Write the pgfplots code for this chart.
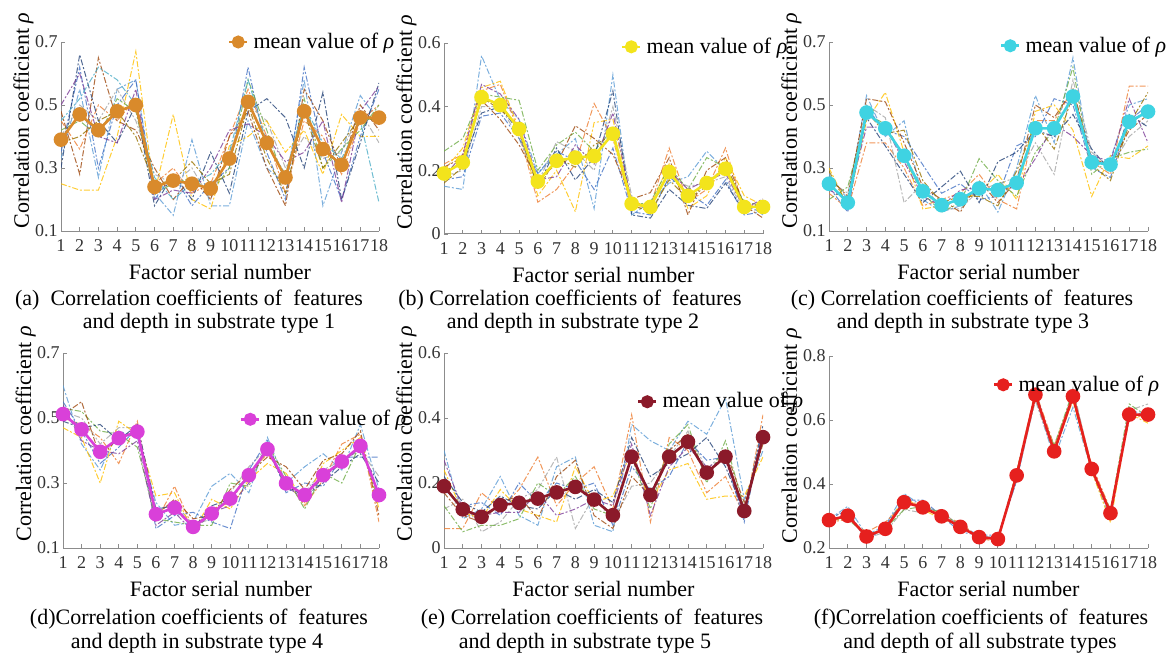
\documentclass[border=0pt]{standalone}
\usepackage{pgfplots}
\pgfplotsset{compat=1.18}
\usepackage{pgfplotstable}
\usepackage{fontspec}
\setmainfont{Liberation Serif}
\newfontfamily\tnr{Liberation Serif}

% line colours of the individual samples
\definecolor{c1}{HTML}{5B9BD5}
\definecolor{c2}{HTML}{ED7D31}
\definecolor{c3}{HTML}{A5A5A5}
\definecolor{c4}{HTML}{FFC000}
\definecolor{c5}{HTML}{4472C4}
\definecolor{c6}{HTML}{70AD47}
\definecolor{c7}{HTML}{264478}
\definecolor{c8}{HTML}{9E480E}
\definecolor{c9}{HTML}{7E3F98}
\definecolor{c10}{HTML}{997300}
\definecolor{c11}{HTML}{4BACC6}
% colours of the mean curves
\definecolor{meanA}{HTML}{D98A2B}
\definecolor{meanB}{HTML}{F3E41C}
\definecolor{meanC}{HTML}{3FD3E2}
\definecolor{meanD}{HTML}{D940D9}
\definecolor{meanE}{HTML}{8B1A2A}
\definecolor{meanF}{HTML}{E6201E}
\definecolor{axisgray}{HTML}{8C8C8C}

% one row per curve, one column per factor
\pgfplotstableread{
name 1 2 3 4 5 6 7 8 9 10 11 12 13 14 15 16 17 18
m   0.39 0.47 0.42 0.48 0.50 0.24 0.26 0.25 0.235 0.33 0.51 0.38 0.27 0.48 0.36 0.31 0.46 0.46
s1  0.33 0.55 0.27 0.55 0.58 0.22 0.15 0.39 0.18 0.18 0.45 0.30 0.25 0.58 0.18 0.35 0.53 0.45
s2  0.45 0.36 0.50 0.45 0.52 0.25 0.30 0.22 0.25 0.40 0.55 0.40 0.22 0.45 0.40 0.28 0.45 0.50
s3  0.40 0.50 0.45 0.55 0.45 0.28 0.25 0.30 0.20 0.35 0.50 0.45 0.30 0.40 0.33 0.35 0.48 0.38
s4  0.25 0.23 0.23 0.40 0.67 0.22 0.47 0.20 0.17 0.37 0.40 0.45 0.35 0.42 0.28 0.47 0.40 0.40
s5  0.35 0.62 0.30 0.50 0.58 0.20 0.28 0.18 0.25 0.30 0.62 0.35 0.20 0.62 0.35 0.20 0.40 0.55
s6  0.42 0.45 0.40 0.52 0.48 0.22 0.25 0.27 0.22 0.30 0.58 0.42 0.25 0.52 0.30 0.36 0.42 0.50
s7  0.30 0.66 0.45 0.38 0.50 0.18 0.28 0.20 0.35 0.22 0.48 0.52 0.46 0.30 0.54 0.20 0.38 0.57
s8  0.48 0.28 0.65 0.45 0.42 0.30 0.20 0.27 0.20 0.40 0.48 0.30 0.18 0.55 0.45 0.30 0.50 0.42
s9  0.50 0.60 0.40 0.38 0.55 0.20 0.23 0.22 0.30 0.42 0.44 0.40 0.32 0.35 0.45 0.19 0.48 0.56
s10 0.38 0.40 0.45 0.48 0.40 0.25 0.26 0.32 0.25 0.28 0.50 0.33 0.22 0.48 0.30 0.38 0.46 0.45
s11 0.45 0.52 0.62 0.58 0.50 0.27 0.20 0.25 0.28 0.35 0.58 0.38 0.28 0.50 0.38 0.33 0.45 0.19
}\rawA
\pgfplotstableread{
name 1 2 3 4 5 6 7 8 9 10 11 12 13 14 15 16 17 18
m   0.19 0.225 0.43 0.405 0.33 0.165 0.23 0.24 0.245 0.315 0.095 0.085 0.195 0.12 0.16 0.205 0.085 0.085
s1  0.15 0.14 0.56 0.42 0.36 0.19 0.25 0.30 0.08 0.50 0.06 0.10 0.16 0.18 0.26 0.20 0.10 0.06
s2  0.22 0.25 0.45 0.47 0.32 0.10 0.14 0.22 0.41 0.30 0.08 0.09 0.27 0.10 0.14 0.27 0.08 0.10
s3  0.18 0.20 0.40 0.40 0.30 0.16 0.29 0.26 0.20 0.40 0.12 0.06 0.18 0.15 0.16 0.18 0.07 0.08
s4  0.20 0.27 0.46 0.48 0.33 0.12 0.20 0.07 0.35 0.36 0.10 0.09 0.22 0.08 0.12 0.24 0.12 0.09
s5  0.17 0.18 0.37 0.38 0.30 0.19 0.26 0.23 0.14 0.27 0.07 0.06 0.18 0.13 0.09 0.17 0.06 0.07
s6  0.26 0.30 0.44 0.43 0.42 0.20 0.28 0.32 0.26 0.33 0.09 0.10 0.21 0.14 0.24 0.21 0.10 0.09
s7  0.20 0.22 0.38 0.40 0.32 0.15 0.27 0.17 0.24 0.45 0.06 0.05 0.14 0.09 0.08 0.16 0.07 0.10
s8  0.21 0.24 0.42 0.36 0.28 0.17 0.22 0.34 0.30 0.25 0.11 0.13 0.24 0.06 0.20 0.24 0.09 0.05
s9  0.18 0.25 0.47 0.44 0.36 0.17 0.18 0.28 0.22 0.38 0.10 0.08 0.20 0.14 0.17 0.19 0.08 0.11
s10 0.16 0.21 0.43 0.39 0.34 0.14 0.24 0.21 0.28 0.31 0.09 0.07 0.17 0.11 0.15 0.22 0.09 0.08
}\rawB
\pgfplotstableread{
name 1 2 3 4 5 6 7 8 9 10 11 12 13 14 15 16 17 18
m   0.25 0.19 0.476 0.426 0.339 0.226 0.182 0.201 0.235 0.23 0.253 0.426 0.426 0.527 0.318 0.311 0.447 0.479
s1  0.28 0.20 0.53 0.40 0.45 0.20 0.16 0.18 0.25 0.16 0.30 0.53 0.38 0.65 0.30 0.33 0.50 0.52
s2  0.22 0.17 0.38 0.38 0.30 0.18 0.20 0.22 0.28 0.20 0.17 0.45 0.45 0.55 0.32 0.28 0.56 0.56
s3  0.26 0.22 0.50 0.46 0.19 0.25 0.17 0.17 0.23 0.25 0.27 0.38 0.28 0.58 0.35 0.30 0.40 0.45
s4  0.30 0.18 0.45 0.54 0.35 0.17 0.18 0.20 0.22 0.28 0.20 0.48 0.50 0.42 0.21 0.34 0.33 0.37
s5  0.24 0.16 0.49 0.42 0.40 0.31 0.22 0.25 0.20 0.21 0.37 0.40 0.52 0.50 0.30 0.27 0.45 0.50
s6  0.20 0.24 0.47 0.44 0.33 0.22 0.16 0.19 0.33 0.26 0.21 0.35 0.42 0.62 0.28 0.33 0.35 0.36
s7  0.25 0.19 0.46 0.37 0.28 0.19 0.24 0.29 0.19 0.32 0.35 0.42 0.40 0.47 0.36 0.29 0.47 0.43
s8  0.27 0.21 0.52 0.51 0.38 0.24 0.20 0.16 0.26 0.19 0.26 0.50 0.46 0.55 0.33 0.31 0.42 0.47
s9  0.23 0.20 0.43 0.43 0.32 0.21 0.18 0.23 0.24 0.23 0.24 0.33 0.44 0.40 0.34 0.32 0.52 0.38
s10 0.29 0.18 0.48 0.41 0.42 0.26 0.19 0.21 0.21 0.18 0.29 0.44 0.36 0.53 0.31 0.26 0.44 0.54
}\rawC
\pgfplotstableread{
name 1 2 3 4 5 6 7 8 9 10 11 12 13 14 15 16 17 18
m   0.512 0.465 0.396 0.438 0.458 0.204 0.224 0.165 0.206 0.252 0.324 0.404 0.299 0.263 0.324 0.366 0.414 0.263
s1  0.60 0.42 0.34 0.46 0.44 0.24 0.17 0.18 0.29 0.33 0.27 0.44 0.30 0.35 0.39 0.34 0.48 0.28
s2  0.50 0.48 0.44 0.36 0.49 0.18 0.29 0.16 0.22 0.24 0.33 0.39 0.31 0.23 0.31 0.42 0.45 0.18
s3  0.52 0.50 0.42 0.47 0.47 0.21 0.24 0.17 0.19 0.27 0.35 0.41 0.28 0.27 0.34 0.37 0.40 0.32
s4  0.47 0.44 0.30 0.49 0.45 0.26 0.27 0.15 0.25 0.22 0.31 0.36 0.33 0.24 0.36 0.40 0.44 0.22
s5  0.55 0.46 0.36 0.41 0.47 0.16 0.20 0.21 0.18 0.16 0.34 0.43 0.27 0.30 0.29 0.38 0.38 0.38
s6  0.53 0.52 0.46 0.45 0.41 0.19 0.18 0.17 0.17 0.30 0.29 0.42 0.32 0.22 0.33 0.30 0.42 0.24
s7  0.49 0.47 0.48 0.43 0.48 0.22 0.23 0.16 0.23 0.25 0.32 0.40 0.29 0.26 0.30 0.35 0.39 0.30
s8  0.51 0.55 0.38 0.44 0.46 0.20 0.25 0.19 0.20 0.28 0.33 0.38 0.35 0.28 0.37 0.39 0.46 0.20
s9  0.54 0.43 0.40 0.39 0.43 0.17 0.21 0.15 0.21 0.23 0.30 0.42 0.29 0.25 0.32 0.36 0.41 0.26
}\rawD
\pgfplotstableread{
name 1 2 3 4 5 6 7 8 9 10 11 12 13 14 15 16 17 18
m   0.19 0.119 0.096 0.132 0.139 0.152 0.171 0.188 0.149 0.101 0.281 0.163 0.281 0.327 0.232 0.281 0.114 0.341
s1  0.30 0.09 0.12 0.22 0.10 0.07 0.25 0.28 0.07 0.05 0.38 0.33 0.30 0.39 0.35 0.46 0.15 0.30
s2  0.06 0.06 0.17 0.12 0.18 0.28 0.13 0.20 0.25 0.12 0.41 0.08 0.34 0.30 0.17 0.22 0.10 0.41
s3  0.12 0.15 0.05 0.08 0.15 0.18 0.28 0.06 0.16 0.08 0.19 0.20 0.28 0.36 0.24 0.30 0.09 0.35
s4  0.24 0.11 0.09 0.18 0.12 0.10 0.08 0.25 0.14 0.16 0.30 0.14 0.24 0.26 0.15 0.16 0.16 0.28
s5  0.18 0.13 0.14 0.10 0.20 0.14 0.20 0.18 0.20 0.07 0.25 0.18 0.22 0.33 0.27 0.28 0.08 0.37
s6  0.13 0.05 0.07 0.07 0.09 0.20 0.16 0.22 0.12 0.10 0.28 0.12 0.32 0.38 0.20 0.33 0.12 0.33
s7  0.22 0.14 0.11 0.16 0.13 0.12 0.18 0.15 0.18 0.14 0.34 0.22 0.26 0.29 0.34 0.25 0.11 0.38
s8  0.17 0.10 0.08 0.14 0.16 0.09 0.22 0.27 0.10 0.06 0.22 0.16 0.30 0.35 0.22 0.30 0.14 0.32
s9  0.27 0.12 0.10 0.11 0.11 0.17 0.10 0.12 0.15 0.13 0.32 0.10 0.25 0.31 0.25 0.27 0.10 0.36
}\rawE
\pgfplotstableread{
name 1 2 3 4 5 6 7 8 9 10 11 12 13 14 15 16 17 18
m   0.287 0.301 0.236 0.26 0.343 0.327 0.299 0.266 0.234 0.228 0.427 0.679 0.502 0.674 0.447 0.309 0.617 0.617
s1  0.29 0.33 0.24 0.27 0.37 0.33 0.31 0.27 0.24 0.23 0.41 0.67 0.48 0.64 0.44 0.29 0.64 0.60
s2  0.28 0.29 0.25 0.28 0.34 0.34 0.30 0.28 0.23 0.22 0.44 0.69 0.52 0.68 0.46 0.32 0.60 0.62
s3  0.30 0.31 0.23 0.25 0.32 0.31 0.32 0.26 0.24 0.23 0.42 0.66 0.49 0.70 0.45 0.30 0.63 0.65
s4  0.28 0.30 0.24 0.26 0.36 0.32 0.29 0.27 0.23 0.23 0.43 0.68 0.51 0.66 0.44 0.28 0.62 0.59
s5  0.29 0.32 0.22 0.27 0.35 0.35 0.30 0.25 0.24 0.24 0.41 0.69 0.50 0.67 0.45 0.31 0.61 0.63
s6  0.29 0.29 0.24 0.26 0.32 0.33 0.31 0.27 0.23 0.23 0.44 0.67 0.52 0.69 0.44 0.32 0.65 0.61
}\rawF
\pgfplotstabletranspose[colnames from=name, input colnames to=x]\tabA\rawA
\pgfplotstabletranspose[colnames from=name, input colnames to=x]\tabB\rawB
\pgfplotstabletranspose[colnames from=name, input colnames to=x]\tabC\rawC
\pgfplotstabletranspose[colnames from=name, input colnames to=x]\tabD\rawD
\pgfplotstabletranspose[colnames from=name, input colnames to=x]\tabE\rawE
\pgfplotstabletranspose[colnames from=name, input colnames to=x]\tabF\rawF

\newcommand{\capfont}{\tnr\fontsize{11}{12.5}\selectfont}

\pgfplotsset{
  rhopanel/.style={
    scale only axis, anchor=south west,
    xmin=1, xmax=18, enlargelimits=false,
    axis lines*=left,
    axis line style={draw=axisgray, line width=0.5pt, -},
    tick align=inside, major tick length=2pt,
    tick style={draw=axisgray, line width=0.4pt},
    xtick={1,...,18},
    xticklabels={1,2,3,4,5,6,7,8,9,10,11,12,13,14,15,16,17,18},
    ticklabel style={font=\tnr\fontsize{9}{10}\selectfont, text=black!80},
    xticklabel style={inner sep=1pt, yshift=-3pt},
    yticklabel style={inner sep=1.5pt},
    xlabel={\tnr Factor serial number},
    ylabel={\tnr Correlation coefficient \textit{ρ}},
    label style={font=\capfont},
    every axis x label/.style={at={(axis description cs:0.5,0)}, yshift=-20.5pt, anchor=center, font=\capfont},
    every axis y label/.style={at={(axis description cs:-0.118,0.585)}, rotate=90, anchor=center, font=\capfont},
    legend style={draw=none, fill=none, inner sep=0pt, outer sep=0pt,
      font=\capfont, anchor=west,
      /tikz/every odd column/.append style={column sep=0.5pt}},
    legend image code/.code={%
      \draw[mark repeat=2, mark phase=2, mark size=2.6pt, ##1] plot coordinates {(0pt,0pt) (4.5pt,0pt) (9pt,0pt)};},
  },
  sample/.style={line width=0.5pt, dash pattern=on 3pt off 1pt on 1pt off 1pt,
    opacity=0.8, forget plot},
  meancurve/.style={line width=1.3pt, mark=*, mark size=3pt},
}

\begin{document}
\begin{tikzpicture}
\path[use as bounding box] (0pt,0pt) rectangle (585.5pt,-328.5pt);

% (a) substrate type 1
\begin{axis}[rhopanel, at={(30.5pt,-115.5pt)}, width=159pt, height=94.5pt,
  ymin=0.1, ymax=0.7, ytick={0.1,0.3,0.5,0.7}, yticklabels={0.1,0.3,0.5,0.7},
  legend style={at={(axis description cs:0.525,1.0)}}]
  \pgfplotsinvokeforeach{1,...,11}{\addplot[sample, color=c#1] table[x=x, y=s#1] {\tabA};}
  \addplot[meancurve, color=meanA] table[x=x, y=m] {\tabA};
  \addlegendentry{\tnr mean value of \textit{ρ}}
\end{axis}

% (b) substrate type 2
\begin{axis}[rhopanel, at={(222pt,-117pt)}, width=159.5pt, height=95.5pt,
  ymin=0, ymax=0.6, ytick={0,0.2,0.4,0.6}, yticklabels={0,0.2,0.4,0.6},
  legend style={at={(axis description cs:0.555,0.98)}}]
  \pgfplotsinvokeforeach{1,...,10}{\addplot[sample, color=c#1] table[x=x, y=s#1] {\tabB};}
  \addplot[meancurve, color=meanB] table[x=x, y=m] {\tabB};
  \addlegendentry{\tnr mean value of \textit{ρ}}
\end{axis}

% (c) substrate type 3
\begin{axis}[rhopanel, at={(414.5pt,-115.5pt)}, width=159.5pt, height=94.5pt,
  ymin=0.1, ymax=0.7, ytick={0.1,0.3,0.5,0.7}, yticklabels={0.1,0.3,0.5,0.7},
  legend style={at={(axis description cs:0.536,0.98)}}]
  \pgfplotsinvokeforeach{1,...,10}{\addplot[sample, color=c#1] table[x=x, y=s#1] {\tabC};}
  \addplot[meancurve, color=meanC] table[x=x, y=m] {\tabC};
  \addlegendentry{\tnr mean value of \textit{ρ}}
\end{axis}

% (d) substrate type 4
\begin{axis}[rhopanel, at={(31.5pt,-274pt)}, width=158pt, height=97.5pt,
  ymin=0.1, ymax=0.7, ytick={0.1,0.3,0.5,0.7}, yticklabels={0.1,0.3,0.5,0.7},
  legend style={at={(axis description cs:0.56,0.66)}}]
  \pgfplotsinvokeforeach{1,...,9}{\addplot[sample, color=c#1] table[x=x, y=s#1] {\tabD};}
  \addplot[meancurve, color=meanD] table[x=x, y=m] {\tabD};
  \addlegendentry{\tnr mean value of \textit{ρ}}
\end{axis}

% (e) substrate type 5
\begin{axis}[rhopanel, at={(222pt,-274pt)}, width=159.5pt, height=97.5pt,
  ymin=0, ymax=0.6, ytick={0,0.2,0.4,0.6}, yticklabels={0,0.2,0.4,0.6},
  legend style={at={(axis description cs:0.605,0.75)}}]
  \pgfplotsinvokeforeach{1,...,9}{\addplot[sample, color=c#1] table[x=x, y=s#1] {\tabE};}
  \addplot[meancurve, color=meanE] table[x=x, y=m] {\tabE};
  \addlegendentry{\tnr mean value of \textit{ρ}}
\end{axis}

% (f) all substrate types
\begin{axis}[rhopanel, at={(414.5pt,-274pt)}, width=159.5pt, height=96pt,
  ymin=0.2, ymax=0.8, ytick={0.2,0.4,0.6,0.8}, yticklabels={0.2,0.4,0.6,0.8},
  legend style={at={(axis description cs:0.514,0.85)}}]
  \pgfplotsinvokeforeach{1,...,6}{\addplot[sample, color=c#1] table[x=x, y=s#1] {\tabF};}
  \addplot[meancurve, color=meanF] table[x=x, y=m] {\tabF};
  \addlegendentry{\tnr mean value of \textit{ρ}}
\end{axis}

% sub-figure captions
\begin{scope}[every node/.style={font=\capfont, inner sep=0pt}]
  \node at (94.5pt,-150pt)  {(a)\ \ Correlation coefficients of\ \ features};
  \node at (104.5pt,-161.5pt) {and depth in substrate type 1};
  \node at (285pt,-150pt)  {(b) Correlation coefficients of\ \ features};
  \node at (286.5pt,-161.5pt) {and depth in substrate type 2};
  \node at (481pt,-150pt)  {(c) Correlation coefficients of\ \ features};
  \node at (481.5pt,-161.5pt) {and depth in substrate type 3};
  \node at (99.5pt,-309.5pt) {(d)Correlation coefficients of\ \ features};
  \node at (98.5pt,-321.5pt) {and depth in substrate type 4};
  \node at (296pt,-309.5pt) {(e) Correlation coefficients of\ \ features};
  \node at (292.5pt,-321.5pt) {and depth in substrate type 5};
  \node at (490.5pt,-309.5pt) {(f)Correlation coefficients of\ \ features};
  \node at (490pt,-321.5pt) {and depth of all substrate types};
\end{scope}
\end{tikzpicture}
\end{document}
